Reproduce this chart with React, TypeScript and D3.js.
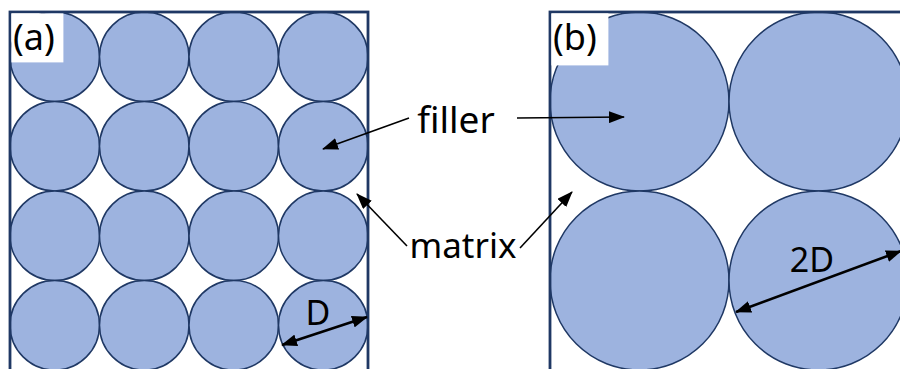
import { useEffect, useRef } from 'react';
import * as d3 from 'd3';

const WIDTH = 900;
const HEIGHT = 369;

const FILL = '#9db3df';
const STROKE = '#1f3864';
const FONT = "'Noto Sans', 'Open Sans', sans-serif";

// two panels: same box size, different grid density
const panelLabels = ['(a)', '(b)'];
const panelLeft = [10, 550];
const panelGrid = [4, 2]; // circles per row / column
const PANEL_TOP = 12;
const PANEL_SIZE = 358;

// annotation arrows: [x1, y1, x2, y2], head at (x2, y2)
const fillerArrows: [number, number, number, number][] = [
  [409, 118, 323, 149],
  [517, 118, 624, 117],
];
const matrixArrows: [number, number, number, number][] = [
  [407, 246, 357, 194],
  [520, 248, 572, 192],
];
const dimArrows: [number, number, number, number, string][] = [
  [282, 345, 367, 317, 'D'],
  [736, 312, 901, 251, '2D'],
];
const dimLabelPos: [number, number][] = [
  [318, 325],
  [812, 272],
];

function draw(svgEl: SVGSVGElement) {
  const svg = d3.select(svgEl);
  svg.selectAll('*').remove();

  const defs = svg.append('defs');
  defs
    .append('marker')
    .attr('id', 'head')
    .attr('markerUnits', 'userSpaceOnUse')
    .attr('viewBox', '0 0 16 12')
    .attr('refX', 15)
    .attr('refY', 6)
    .attr('markerWidth', 16)
    .attr('markerHeight', 12)
    .attr('orient', 'auto-start-reverse')
    .append('path')
    .attr('d', 'M0,0 L16,6 L0,12 Z')
    .attr('fill', '#000');

  panelLabels.forEach((label, i) => {
    const n = panelGrid[i];
    const x0 = panelLeft[i];
    const band = d3
      .scaleBand<number>()
      .domain(d3.range(n))
      .range([0, PANEL_SIZE])
      .padding(0);
    const r = band.bandwidth() / 2;
    const cells = d3.cross(d3.range(n), d3.range(n));

    const g = svg.append('g').attr('transform', `translate(${x0},${PANEL_TOP})`);

    g.selectAll('circle')
      .data(cells)
      .join('circle')
      .attr('cx', (d) => (band(d[0]) ?? 0) + r)
      .attr('cy', (d) => (band(d[1]) ?? 0) + r)
      .attr('r', r)
      .attr('fill', FILL)
      .attr('stroke', STROKE)
      .attr('stroke-width', 1.5);

    g.append('rect')
      .attr('x', 0)
      .attr('y', 0)
      .attr('width', PANEL_SIZE)
      .attr('height', PANEL_SIZE + 20)
      .attr('fill', 'none')
      .attr('stroke', STROKE)
      .attr('stroke-width', 2.8);

    // label sits on a white patch over the first circle
    g.append('rect')
      .attr('x', 1.4)
      .attr('y', 1.4)
      .attr('width', i === 0 ? 52 : 57)
      .attr('height', i === 0 ? 49 : 52)
      .attr('fill', '#fff');

    g.append('text')
      .attr('x', 3)
      .attr('y', 38)
      .attr('font-family', FONT)
      .attr('font-size', 36)
      .attr('fill', '#000')
      .text(label);
  });

  const lines = [...fillerArrows, ...matrixArrows];
  svg
    .append('g')
    .selectAll('line')
    .data(lines)
    .join('line')
    .attr('x1', (d) => d[0])
    .attr('y1', (d) => d[1])
    .attr('x2', (d) => d[2])
    .attr('y2', (d) => d[3])
    .attr('stroke', '#000')
    .attr('stroke-width', 1.6)
    .attr('marker-end', 'url(#head)');

  svg
    .append('g')
    .selectAll('line')
    .data(dimArrows)
    .join('line')
    .attr('x1', (d) => d[0])
    .attr('y1', (d) => d[1])
    .attr('x2', (d) => d[2])
    .attr('y2', (d) => d[3])
    .attr('stroke', '#000')
    .attr('stroke-width', 2.6)
    .attr('marker-start', 'url(#head)')
    .attr('marker-end', 'url(#head)');

  svg
    .append('g')
    .selectAll('text')
    .data(dimArrows)
    .join('text')
    .attr('x', (_, i) => dimLabelPos[i][0])
    .attr('y', (_, i) => dimLabelPos[i][1])
    .attr('text-anchor', 'middle')
    .attr('font-family', FONT)
    .attr('font-size', 34)
    .text((d) => d[4]);

  svg
    .append('text')
    .attr('x', 456)
    .attr('y', 133)
    .attr('text-anchor', 'middle')
    .attr('font-family', FONT)
    .attr('font-size', 37)
    .text('filler');

  svg
    .append('text')
    .attr('x', 463)
    .attr('y', 258)
    .attr('text-anchor', 'middle')
    .attr('font-family', FONT)
    .attr('font-size', 35)
    .text('matrix');
}

export default function App() {
  const svgRef = useRef<SVGSVGElement>(null);

  useEffect(() => {
    if (!svgRef.current) return;
    draw(svgRef.current);
  }, []);

  return (
    <svg
      ref={svgRef}
      width={WIDTH}
      height={HEIGHT}
      style={{ position: 'absolute', left: 0, top: 0, display: 'block', background: '#fff' }}
    />
  );
}
